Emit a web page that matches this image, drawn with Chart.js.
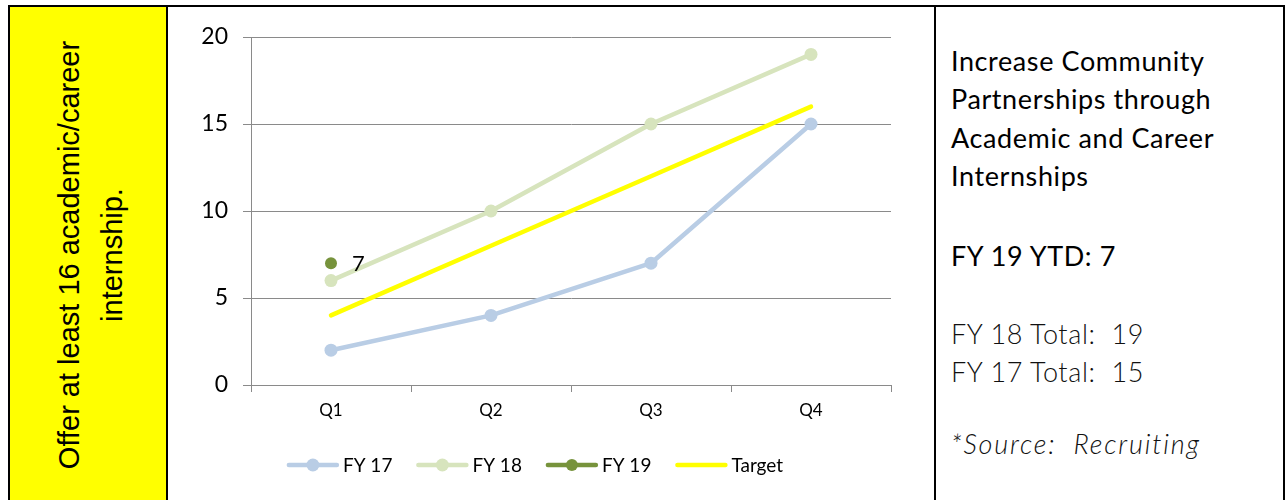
<!DOCTYPE html>
<html>
<head>
<meta charset="utf-8">
<script src="https://cdn.jsdelivr.net/npm/chart.js@4.4.1/dist/chart.umd.min.js"></script>
<style>
  html, body { margin: 0; padding: 0; background: #fff; width: 1285px; height: 500px; overflow: hidden; }
  #frame { position: absolute; left: 8px; top: 5px; width: 1273px; height: 520px; border: 2px solid #000; border-bottom: none; }
  #leftCell { position: absolute; left: 10px; top: 7px; width: 156px; height: 500px; background: #ffff00; border-right: 2px solid #000; overflow: hidden; }
  #rot { position: absolute; left: 81px; top: 248px; width: 520px; transform: translate(-50%, -50%) rotate(-90deg);
         font-family: "Liberation Sans", Arial, sans-serif; font-size: 29px; line-height: 43px; text-align: center; color: #000; white-space: nowrap; }
  #midBorder { position: absolute; left: 934px; top: 7px; width: 2px; height: 500px; background: #000; }
  #chartWrap { position: absolute; left: 168px; top: 7px; width: 766px; height: 493px; }
  .rt { position: absolute; left: 951px; font-family: Lato, "Open Sans", sans-serif; font-size: 27px; letter-spacing: 0.6px; line-height: 30px; color: #000; white-space: nowrap; }
  .light { font-weight: 300; color: #111; }
  .it { font-style: italic; font-weight: 300; letter-spacing: 1.8px; color: #111; }
</style>
</head>
<body>
<div id="frame"></div>
<div id="leftCell"><div id="rot">Offer at least 16 academic/career<br>internship.</div></div>
<div id="midBorder"></div>
<div id="chartWrap"><canvas id="c" width="766" height="493"></canvas></div>

<div class="rt" style="top:46px">Increase Community</div>
<div class="rt" style="top:84px">Partnerships through</div>
<div class="rt" style="top:123px">Academic and Career</div>
<div class="rt" style="top:161px">Internships</div>
<div class="rt" style="top:241px">FY 19 YTD: 7</div>
<div class="rt light" style="top:319px">FY 18 Total:&nbsp; 19</div>
<div class="rt light" style="top:357px">FY 17 Total:&nbsp; 15</div>
<div class="rt it" style="top:429px">*Source:&nbsp; Recruiting</div>

<script>
const categories = ["Q1", "Q2", "Q3", "Q4"];
const fy17 = [2, 4, 7, 15];
const fy18 = [6, 10, 15, 19];
const fy19 = [7, null, null, null];
const target = [4, 8, 12, 16];
const yTicks = [0, 5, 10, 15, 20];

const FONT = "Lato, 'Open Sans', sans-serif";
const GRID = "#8a8a8a";

const legendPlugin = {
  id: "customLegend",
  afterDraw(chart) {
    const ctx = chart.ctx;
    const items = chart.data.datasets;
    const lineLen = 52, gapText = 4, spacing = 24;
    ctx.save();
    ctx.font = "19px " + FONT;
    const widths = items.map(d => lineLen + gapText + ctx.measureText(d.label).width);
    const total = widths.reduce((a, b) => a + b, 0) + spacing * (items.length - 1);
    let x = 367 - total / 2;
    const y = 458;
    items.forEach((d, i) => {
      ctx.strokeStyle = d.borderColor;
      ctx.lineWidth = d.borderWidth;
      ctx.lineCap = "round";
      ctx.beginPath();
      ctx.moveTo(x + 2, y);
      ctx.lineTo(x + lineLen - 2, y);
      ctx.stroke();
      if (d.pointRadius > 0) {
        ctx.fillStyle = d.pointBackgroundColor;
        ctx.beginPath();
        ctx.arc(x + lineLen / 2, y, d.pointRadius, 0, Math.PI * 2);
        ctx.fill();
      }
      ctx.fillStyle = "#000";
      ctx.textBaseline = "middle";
      ctx.textAlign = "left";
      ctx.fillText(d.label, x + lineLen + gapText, y + 1);
      x += widths[i] + spacing;
    });
    ctx.restore();
  }
};

const labelPlugin = {
  id: "fy19Label",
  afterDatasetsDraw(chart) {
    const ctx = chart.ctx;
    const idx = chart.data.datasets.findIndex(d => d.label === "FY 19");
    const meta = chart.getDatasetMeta(idx);
    ctx.save();
    ctx.font = "22px " + FONT;
    ctx.fillStyle = "#000";
    ctx.textAlign = "left";
    ctx.textBaseline = "middle";
    meta.data.forEach((pt, i) => {
      const v = chart.data.datasets[idx].data[i];
      if (v === null || v === undefined) return;
      ctx.fillText(String(v), pt.x + 21, pt.y + 1);
    });
    ctx.restore();
  }
};

new Chart(document.getElementById("c"), {
  type: "line",
  data: {
    labels: categories,
    datasets: [
      { label: "FY 17", data: fy17, borderColor: "#b9cde5", backgroundColor: "#b9cde5", pointBackgroundColor: "#b9cde5",
        borderWidth: 4.5, pointRadius: 6.5, pointBorderWidth: 0, order: 3 },
      { label: "FY 18", data: fy18, borderColor: "#d7e4bd", backgroundColor: "#d7e4bd", pointBackgroundColor: "#d7e4bd",
        borderWidth: 4.5, pointRadius: 6.5, pointBorderWidth: 0, order: 2 },
      { label: "FY 19", data: fy19, borderColor: "#77933c", backgroundColor: "#77933c", pointBackgroundColor: "#77933c",
        borderWidth: 4.5, pointRadius: 6, pointBorderWidth: 0, order: 0 },
      { label: "Target", data: target, borderColor: "#ffff00", backgroundColor: "#ffff00", pointBackgroundColor: "#ffff00",
        borderWidth: 4.5, pointRadius: 0, order: 1 }
    ]
  },
  options: {
    responsive: false,
    devicePixelRatio: 1,
    animation: false,
    layout: { padding: { left: 0, right: 43, top: 30, bottom: 0 } },
    elements: { line: { tension: 0, borderCapStyle: "round", borderJoinStyle: "round" } },
    plugins: { legend: { display: false }, tooltip: { enabled: false } },
    scales: {
      x: {
        offset: true,
        grid: { display: true, drawOnChartArea: false, offset: true, color: GRID, tickLength: 7, lineWidth: 1 },
        border: { display: true, color: GRID, width: 1 },
        ticks: { color: "#000", font: { family: FONT, size: 17 }, padding: 8 },
        afterFit(scale) { scale.height = 115; }
      },
      y: {
        min: 0, max: 20,
        afterBuildTicks(scale) { scale.ticks = yTicks.map(v => ({ value: v })); },
        grid: { color: GRID, tickLength: 8, lineWidth: 1 },
        border: { display: true, color: GRID, width: 1 },
        ticks: { color: "#000", font: { family: FONT, size: 23 }, padding: 15 },
        afterFit(scale) { scale.width = 83; }
      }
    }
  },
  plugins: [legendPlugin, labelPlugin]
});
</script>
</body>
</html>
